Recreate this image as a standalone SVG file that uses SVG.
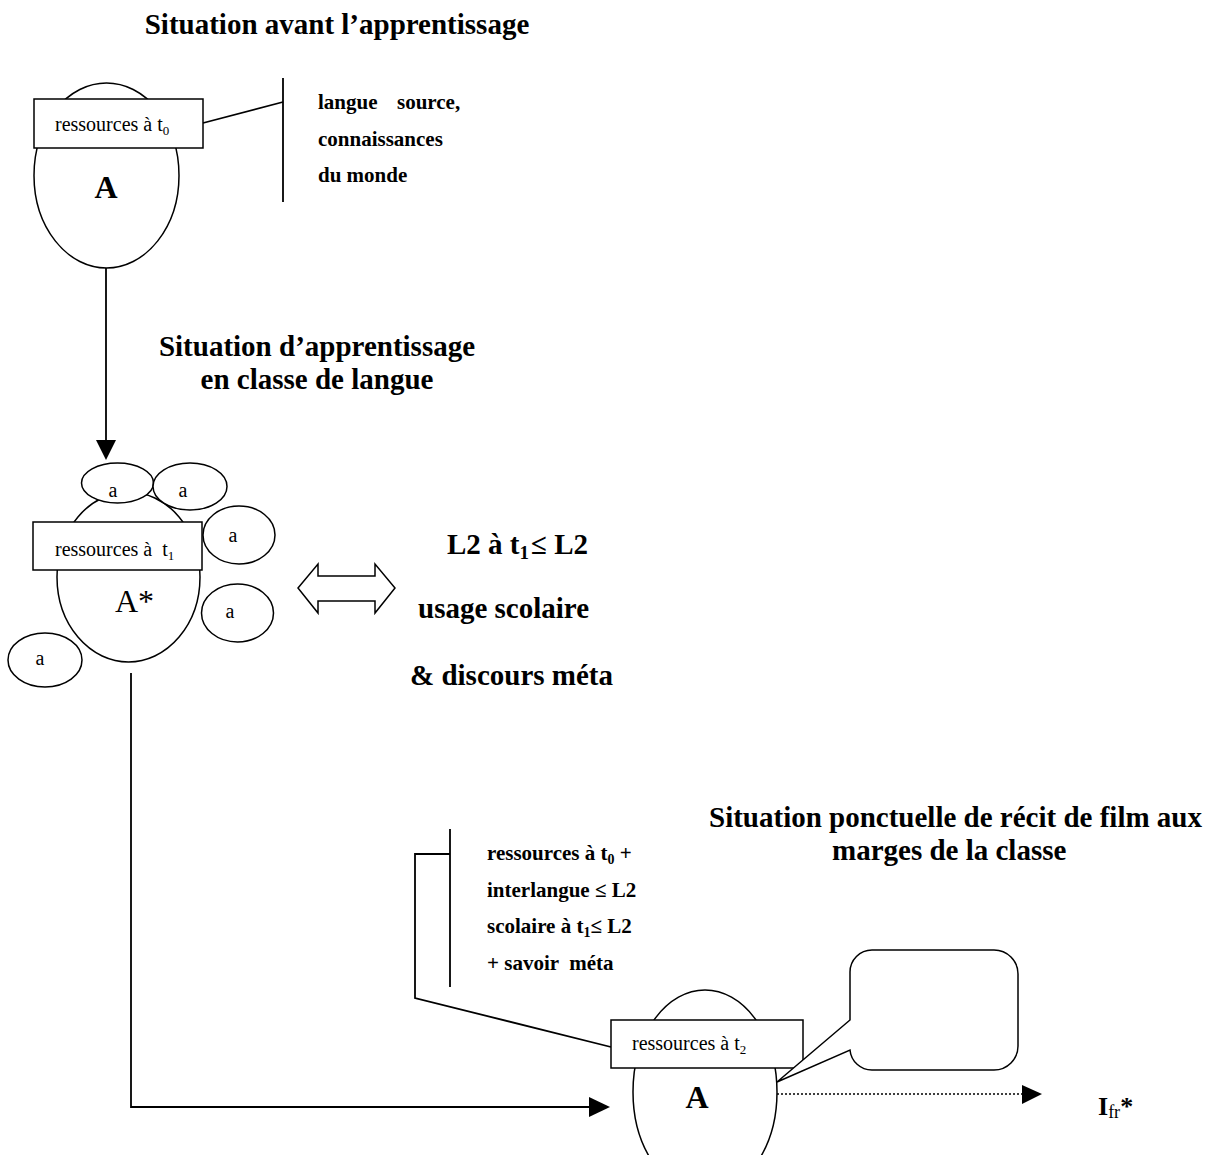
<svg xmlns="http://www.w3.org/2000/svg" width="1209" height="1155" viewBox="0 0 1209 1155">
<style>
  .shape{fill:#fff;stroke:#000;stroke-width:1.5}
  .ln{fill:none;stroke:#000;stroke-width:1.8}
  .head{fill:#000;stroke:none}
  .reg{font-family:"Liberation Serif","Times New Roman",serif;font-size:20px;fill:#000}
  .b21{font-family:"Liberation Serif","Times New Roman",serif;font-size:21px;font-weight:bold;fill:#000}
  .b29{font-family:"Liberation Serif","Times New Roman",serif;font-size:29px;font-weight:bold;fill:#000}
  .sa{font-family:"Liberation Serif","Times New Roman",serif;font-size:20px;fill:#000;text-anchor:middle}
</style>
<rect width="1209" height="1155" fill="#fff"/>

<g id="titles">
  <text class="b29" x="337" y="34" text-anchor="middle">Situation avant l’apprentissage</text>
  <text class="b29" x="317" y="356" text-anchor="middle">Situation d’apprentissage</text>
  <text class="b29" x="317" y="389" text-anchor="middle">en classe de langue</text>
  <text class="b29" x="1202" y="827" text-anchor="end">Situation ponctuelle de récit de film aux</text>
  <text class="b29" x="832" y="860">marges de la classe</text>
</g>

<g id="connectors">
  <line class="ln" x1="203" y1="123" x2="283" y2="102"/>
  <line class="ln" x1="283" y1="78" x2="283" y2="202"/>
  <line class="ln" x1="106" y1="268" x2="106" y2="442"/>
  <polygon class="head" points="96,440 116,440 106,460"/>
  <polygon class="shape" points="298,588 318,564 318,576 375,576 375,564 395,588 375,613 375,601 318,601 318,613"/>
  <polyline class="ln" points="131,673 131,1107 590,1107"/>
  <polygon class="head" points="589,1097 610,1107 589,1117"/>
  <path class="ln" d="M450,829 V987 M450,854 H415 V998 L611,1047"/>
  <line x1="777" y1="1094" x2="1023" y2="1094" stroke="#000" stroke-width="1.5" stroke-dasharray="2 2"/>
  <polygon class="head" points="1022,1085 1042,1094 1022,1104"/>
</g>

<g id="labels">
  <text class="b21" x="318" y="109">langue</text>
  <text class="b21" x="397" y="109">source,</text>
  <text class="b21" x="318" y="146">connaissances</text>
  <text class="b21" x="318" y="182">du monde</text>
  <text class="b29" x="447" y="554">L2 à t<tspan font-size="19" dy="5">1</tspan><tspan dy="-5" dx="2">≤ L2</tspan></text>
  <text class="b29" x="418" y="618">usage scolaire</text>
  <text class="b29" x="410" y="685">&amp; discours méta</text>
  <text class="b21" x="487" y="860">ressources à t<tspan font-size="14" dy="4">0</tspan><tspan dy="-4"> +</tspan></text>
  <text class="b21" x="487" y="897">interlangue ≤ L2</text>
  <text class="b21" x="487" y="933">scolaire à t<tspan font-size="14" dy="4">1</tspan><tspan dy="-4">≤ L2</tspan></text>
  <text class="b21" x="487" y="970" xml:space="preserve">+ savoir  méta</text>
  <text x="1098" y="1115" font-family="Liberation Serif, Times New Roman, serif" font-size="26" font-weight="bold">I<tspan font-weight="normal" font-size="18" dy="3">fr</tspan><tspan dy="-3">*</tspan></text>
</g>

<g id="node-A-t0">
  <ellipse class="shape" cx="106.5" cy="175.5" rx="72.5" ry="92.5"/>
  <rect class="shape" x="34" y="99" width="169" height="49"/>
  <text class="reg" x="55" y="131">ressources à t<tspan font-size="13" dy="4">0</tspan></text>
  <text x="106" y="198" text-anchor="middle" font-family="Liberation Serif, Times New Roman, serif" font-size="32" font-weight="bold">A</text>
</g>

<g id="node-A-t1">
  <ellipse class="shape" cx="128.5" cy="577" rx="71.5" ry="85"/>
  <rect class="shape" x="33" y="522" width="169" height="48"/>
  <text class="reg" x="55" y="556" xml:space="preserve">ressources à  t<tspan font-size="13" dy="4">1</tspan></text>
  <text x="115" y="612" font-family="Liberation Serif, Times New Roman, serif" font-size="32">A*</text>
</g>

<g id="node-a1">
  <ellipse class="shape" cx="117.5" cy="483" rx="36" ry="20"/>
  <text class="sa" x="113" y="497">a</text>
</g>
<g id="node-a2">
  <ellipse class="shape" cx="190" cy="486.5" rx="37" ry="23.5"/>
  <text class="sa" x="183" y="497">a</text>
</g>
<g id="node-a3">
  <ellipse class="shape" cx="239" cy="535" rx="36" ry="29"/>
  <text class="sa" x="233" y="542">a</text>
</g>
<g id="node-a4">
  <ellipse class="shape" cx="237.5" cy="613" rx="36" ry="29"/>
  <text class="sa" x="230" y="618">a</text>
</g>
<g id="node-a5">
  <ellipse class="shape" cx="45" cy="660" rx="37" ry="27"/>
  <text class="sa" x="40" y="665">a</text>
</g>

<g id="node-A-t2">
  <ellipse class="shape" cx="705" cy="1092" rx="72" ry="102"/>
  <rect class="shape" x="611" y="1020" width="192" height="48"/>
  <text class="reg" x="632" y="1050">ressources à t<tspan font-size="13" dy="4">2</tspan></text>
  <text x="697" y="1108" text-anchor="middle" font-family="Liberation Serif, Times New Roman, serif" font-size="32" font-weight="bold">A</text>
</g>

<g id="node-bubble">
  <path class="shape" d="M872,950 H994 A24,24 0 0 1 1018,974 V1046 A24,24 0 0 1 994,1070 H872 A22,22 0 0 1 850,1050 L777,1082 L850,1020 V972 A22,22 0 0 1 872,950 Z"/>
</g>
</svg>
